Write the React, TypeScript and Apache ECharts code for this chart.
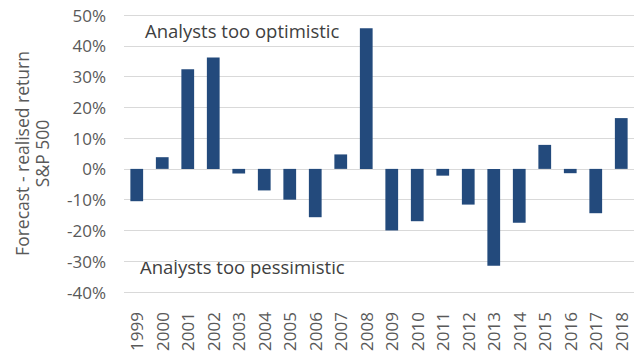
import React, { useEffect, useRef } from "react";
import * as echarts from "echarts";

const years = ["1999","2000","2001","2002","2003","2004","2005","2006","2007","2008","2009","2010","2011","2012","2013","2014","2015","2016","2017","2018"];
const values = [-10.5, 3.8, 32.4, 36.2, -1.5, -7.0, -10.0, -15.7, 4.7, 45.7, -20.0, -17.0, -2.2, -11.6, -31.5, -17.5, 7.8, -1.4, -14.4, 16.5];
const yTicks = { min: -40, max: 50, interval: 10 };
const annotations = ["Analysts too optimistic", "Analysts too pessimistic"];

export default function App() {
  const ref = useRef<HTMLDivElement>(null);
  useEffect(() => {
    const chart = echarts.init(ref.current!, null, { renderer: "svg" });
    chart.setOption({
      animation: false,
      textStyle: { fontFamily: "Open Sans" },
      grid: { left: 124, right: 6, top: 15, bottom: 68 },
      xAxis: {
        type: "category",
        data: years,
        position: "bottom",
        axisLine: { show: false },
        axisTick: { show: false },
        axisLabel: { rotate: 90, color: "#595959", fontSize: 17, margin: 20, fontFamily: "Open Sans" },
      },
      yAxis: {
        type: "value",
        min: yTicks.min,
        max: yTicks.max,
        interval: yTicks.interval,
        name: "Forecast - realised return\nS&P 500",
        nameLocation: "middle",
        nameGap: 72,
        nameTextStyle: { color: "#595959", fontSize: 17.5, lineHeight: 20, fontFamily: "Open Sans" },
        axisLabel: { formatter: "{value}%", color: "#595959", fontSize: 17, margin: 18, fontFamily: "Open Sans" },
        splitLine: { lineStyle: { color: "#d9d9d9", width: 1 } },
        axisLine: { show: false },
        axisTick: { show: false },
      },
      series: [
        {
          type: "bar",
          data: values,
          barWidth: "50%",
          itemStyle: { color: "#234a7c" },
        },
      ],
      graphic: [
        { type: "text", left: 145, top: 21, style: { text: annotations[0], fill: "#404040", fontSize: 18.5, fontFamily: "Open Sans" } },
        { type: "text", left: 140, top: 257, style: { text: annotations[1], fill: "#404040", fontSize: 18.5, fontFamily: "Open Sans" } },
      ],
    });
    return () => chart.dispose();
  }, []);
  return <div ref={ref} style={{ width: 640, height: 360, position: "absolute", left: 0, top: 0, background: "#fff" }} />;
}
